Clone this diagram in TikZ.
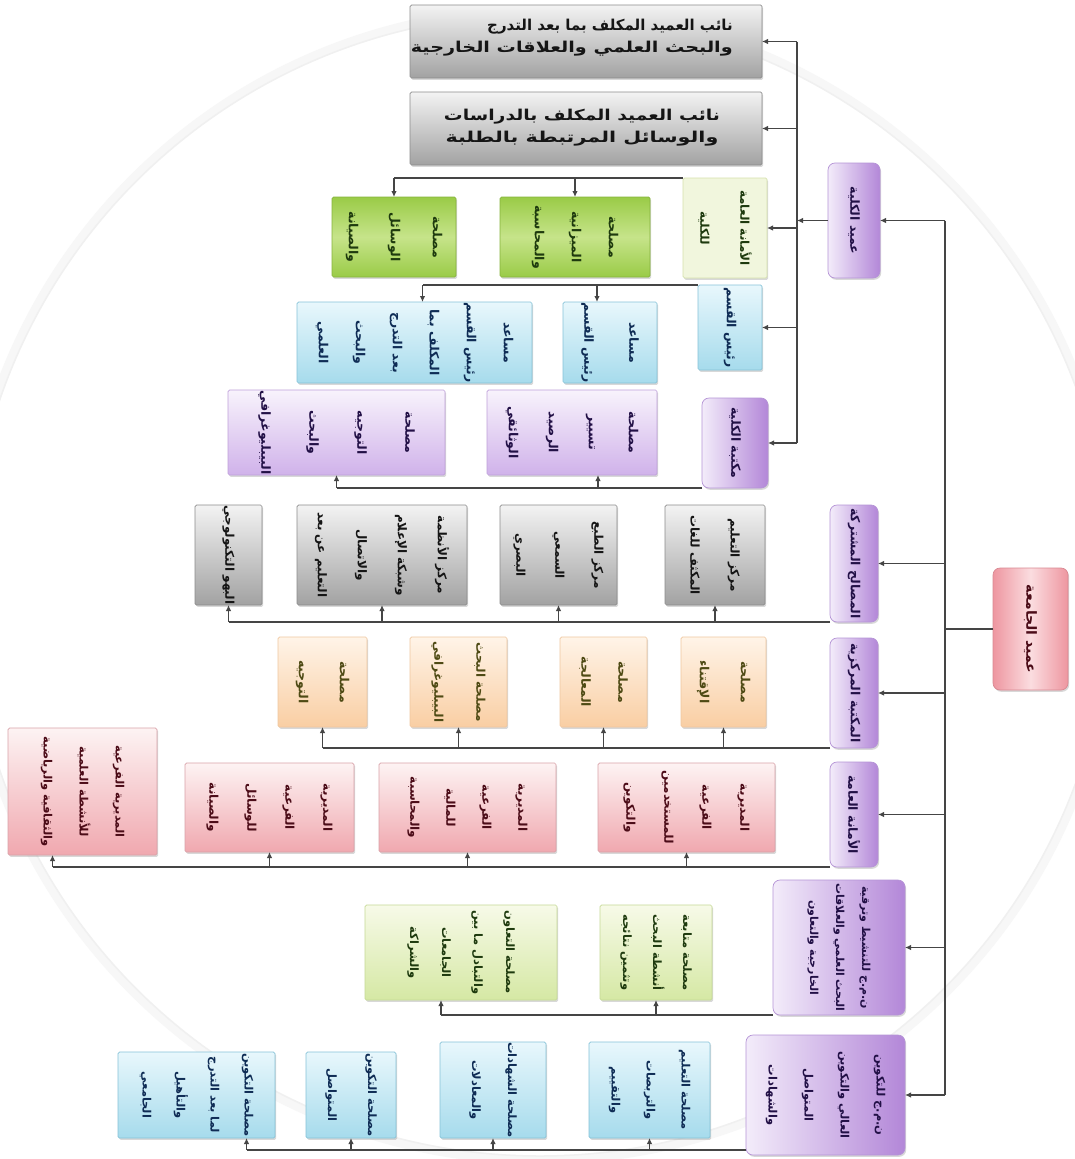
\documentclass[tikz,border=0pt]{standalone}
\usepackage{fontspec}
\usepackage{graphicx}
\newfontfamily\arabicfont[Script=Arabic]{DejaVu Sans}
\TeXXeTstate=1
\usetikzlibrary{arrows.meta,shadows}

% palette
\definecolor{lineC}{HTML}{454545}
\definecolor{grayT}{HTML}{F3F3F3}\definecolor{grayB}{HTML}{A2A2A2}\definecolor{grayD}{HTML}{8C8C8C}
\definecolor{grnE}{HTML}{9ACB47}\definecolor{grnM}{HTML}{C6E48A}\definecolor{grnD}{HTML}{86B33C}
\definecolor{paleG}{HTML}{F1F6DD}\definecolor{paleGD}{HTML}{D5E2AC}
\definecolor{bluT}{HTML}{E8F7FC}\definecolor{bluB}{HTML}{A6DBEC}\definecolor{bluD}{HTML}{86C3D8}
\definecolor{purT}{HTML}{F8F3FC}\definecolor{purB}{HTML}{D0B2EA}\definecolor{purD}{HTML}{BFA0DA}
\definecolor{hdrL}{HTML}{F3ECFA}\definecolor{hdrR}{HTML}{B387D8}\definecolor{hdrD}{HTML}{B594D6}
\definecolor{orT}{HTML}{FFF4E8}\definecolor{orB}{HTML}{F9CEA3}\definecolor{orD}{HTML}{EFC79F}
\definecolor{redT}{HTML}{FDF3F3}\definecolor{redB}{HTML}{F0A8AF}\definecolor{redD}{HTML}{D9A2A9}
\definecolor{ltgT}{HTML}{F7FAE8}\definecolor{ltgB}{HTML}{D5E8A4}\definecolor{ltgD}{HTML}{C6DA96}
\definecolor{udE}{HTML}{EE96A0}\definecolor{udM}{HTML}{FBDDE0}\definecolor{udD}{HTML}{D98892}
\definecolor{txG}{HTML}{1E3A0E}\definecolor{txB}{HTML}{0F2C55}\definecolor{txP}{HTML}{221046}
\definecolor{txO}{HTML}{4E4A14}\definecolor{txR}{HTML}{4C0C18}\definecolor{txK}{HTML}{151515}

% one right-to-left line
\newcommand\artx[1]{\beginR #1\endR}
% box from its two corners: name, style, x1, y1, x2, y2
\newcommand\bx[6]{%
  \pgfmathsetmacro\bxw{#5-#3}%
  \pgfmathsetmacro\bxh{#6-#4}%
  \node[#2, minimum width=\bxw pt, minimum height=\bxh pt] (#1) at ({(#3+#5)/2},{(#4+#6)/2}) {};}

\begin{document}
\begin{tikzpicture}[x=1pt,y=-1pt,
  box/.style={draw, line width=0.7pt, inner sep=0pt, outer sep=0pt, rounded corners=1.5pt,
    drop shadow={shadow xshift=1.2pt, shadow yshift=-1.8pt, opacity=0.3}},
  hdr/.style={box, rounded corners=7pt, draw=hdrD, left color=hdrL, right color=hdrR},
  grybox/.style={box, draw=grayD, top color=grayT, bottom color=grayB},
  grnbox/.style={box, draw=grnD, top color=grnE, bottom color=grnE, middle color=grnM},
  palebox/.style={box, draw=paleGD, fill=paleG},
  blubox/.style={box, draw=bluD, top color=bluT, bottom color=bluB},
  purbox/.style={box, draw=purD, top color=purT, bottom color=purB},
  orbox/.style={box, draw=orD, top color=orT, bottom color=orB},
  redbox/.style={box, draw=redD, top color=redT, bottom color=redB},
  ltgbox/.style={box, draw=ltgD, top color=ltgT, bottom color=ltgB},
  udbox/.style={box, rounded corners=7pt, draw=udD, left color=udE, right color=udE, middle color=udM},
  vt/.style 2 args={rotate=-90, align=center, inner sep=0pt,
    font={\arabicfont\bfseries\fontsize{#1}{#2}\selectfont}},
  ht/.style={inner sep=0pt, text=txK,
    font={\arabicfont\bfseries\fontsize{15}{22}\selectfont}},
  conn/.style={draw=lineC, line width=1.3pt},
  arr/.style={conn, -{Latex[length=6pt,width=5.5pt]}},
]
\useasboundingbox (0,0) rectangle (1074,1159);
\fill[white] (0,0) rectangle (1074,1159);
% faint halo behind the chart
\draw[black!3, line width=9pt] (540,585) circle (575pt);
\draw[black!6, line width=1.5pt] (540,585) circle (571pt);

% ---------- faculty part ----------
\bx{ga}{grybox}{410}{5}{762}{78}
\bx{gb}{grybox}{410}{92}{762}{165}
\node[ht, align=right, anchor=east] (gat) at (733,38)
  {\beginR نائب العميد المكلف بما بعد التدرج\endR\\
   \scalebox{1.28}[1]{\beginR والبحث العلمي والعلاقات الخارجية\endR}};
\node[ht, align=center] (gbt) at (582,128)
  {\scalebox{1.25}[1]{\beginR نائب العميد المكلف بالدراسات\endR}\\
   \scalebox{1.38}[1]{\beginR والوسائل المرتبطة بالطلبة\endR}};

\bx{dean}{hdr}{828}{163}{880}{278}
\node[vt={12.5}{17}, text=txP] (deant) at (dean) {\artx{عميد الكلية}};

\bx{amana}{palebox}{683}{178}{767}{278}
\node[vt={12}{40}, text=txG] (amanat) at (amana) {\artx{الأمانة العامة}\\\artx{للكلية}};
\bx{g1}{grnbox}{500}{197}{650}{277}
\node[vt={12.5}{37}, text=txG] (g1t) at (g1) {\artx{مصلحة}\\\artx{الميزانية}\\\artx{والمحاسبة}};
\bx{g2}{grnbox}{332}{197}{456}{277}
\node[vt={12.5}{42}, text=txG] (g2t) at (g2) {\artx{مصلحة}\\\artx{الوسائل}\\\artx{والصيانة}};

\bx{head}{blubox}{698}{285}{762}{370}
\node[vt={12.5}{17}, text=txB] (headt) at (head) {\artx{رئيس القسم}};
\bx{bl1}{blubox}{563}{302}{657}{383}
\node[vt={12.5}{45}, text=txB] (bl1t) at (bl1) {\artx{مساعد}\\\artx{رئيس القسم}};
\bx{bl2}{blubox}{297}{302}{532}{383}
\node[vt={12.5}{37}, text=txB] (bl2t) at (bl2)
  {\artx{مساعد}\\\artx{رئيس القسم}\\\artx{المكلف بما}\\\artx{بعد التدرج}\\\artx{والبحث}\\\artx{العلمي}};

\bx{lib}{hdr}{702}{398}{768}{488}
\node[vt={12.5}{17}, text=txP] (libt) at (lib) {\artx{مكتبة الكلية}};
\bx{pu1}{purbox}{487}{390}{657}{475}
\node[vt={12.5}{40}, text=txP] (pu1t) at (pu1) {\artx{مصلحة}\\\artx{تسيير}\\\artx{الرصيد}\\\artx{الوثائقي}};
\bx{pu2}{purbox}{228}{390}{445}{475}
\node[vt={12.5}{48}, text=txP] (pu2t) at (pu2) {\artx{مصلحة}\\\artx{التوجيه}\\\artx{والبحث}\\\artx{البيبليوغرافي}};

% ---------- university part ----------
\bx{ud}{udbox}{993}{568}{1068}{690}
\node[vt={14}{18}, text=txR] (udt) at (ud) {\artx{عميد الجامعة}};

\bx{sh}{hdr}{830}{505}{878}{622}
\node[vt={12.5}{17}, text=txP] (sht) at (sh) {\artx{المصالح المشتركة}};
\bx{gA}{grybox}{665}{505}{765}{605}
\node[vt={12}{40}, text=txK] (gAt) at (gA) {\artx{مركز التعليم}\\\artx{المكثف للغات}};
\bx{gB}{grybox}{500}{505}{617}{605}
\node[vt={12}{39}, text=txK] (gBt) at (gB) {\artx{مركز الطبع}\\\artx{السمعي}\\\artx{البصري}};
\bx{gC}{grybox}{297}{505}{467}{605}
\node[vt={12}{40}, text=txK] (gCt) at (gC) {\artx{مركز الأنظمة}\\\artx{وشبكة الإعلام}\\\artx{والاتصال}\\\artx{التعليم عن بعد}};
\bx{gD}{grybox}{195}{505}{262}{605}
\node[vt={12}{17}, text=txK] (gDt) at (gD) {\artx{البهو التكنولوجي}};

\bx{lc}{hdr}{830}{638}{878}{748}
\node[vt={12.5}{17}, text=txP] (lct) at (lc) {\artx{المكتبة المركزية}};
\bx{o1}{orbox}{681}{637}{766}{727}
\node[vt={12.5}{41}, text=txO] (o1t) at (o1) {\artx{مصلحة}\\\artx{الإقتناء}};
\bx{o2}{orbox}{560}{637}{647}{727}
\node[vt={12.5}{37}, text=txO] (o2t) at (o2) {\artx{مصلحة}\\\artx{المعالجة}};
\bx{o3}{orbox}{410}{637}{507}{727}
\node[vt={12}{42}, text=txO] (o3t) at (o3) {\artx{مصلحة البحث}\\\artx{البيبليوغرافي}};
\bx{o4}{orbox}{278}{637}{367}{727}
\node[vt={12.5}{41}, text=txO] (o4t) at (o4) {\artx{مصلحة}\\\artx{التوجيه}};

\bx{sg}{hdr}{830}{762}{878}{867}
\node[vt={12.5}{17}, text=txP] (sgt) at (sg) {\artx{الأمانة العامة}};
\bx{r1}{redbox}{598}{763}{775}{852}
\node[vt={12}{38}, text=txR] (r1t) at (r1) {\artx{المديرية}\\\artx{الفرعية}\\\artx{للمستخدمين}\\\artx{والتكوين}};
\bx{r2}{redbox}{379}{763}{556}{852}
\node[vt={12}{36}, text=txR] (r2t) at (r2) {\artx{المديرية}\\\artx{الفرعية}\\\artx{للمالية}\\\artx{والمحاسبة}};
\bx{r3}{redbox}{185}{763}{354}{852}
\node[vt={12}{38}, text=txR] (r3t) at (r3) {\artx{المديرية}\\\artx{الفرعية}\\\artx{للوسائل}\\\artx{والصيانة}};
\bx{r4}{redbox}{8}{728}{157}{855}
\node[vt={11.5}{36}, text=txR] (r4t) at (r4) {\artx{المديرية الفرعية}\\\artx{للأنشطة العلمية}\\\artx{والثقافية والرياضية}};

\bx{r7}{hdr}{773}{880}{905}{1015}
\node[vt={11}{26}, text=txP] (r7t) at (r7) {\artx{ن.م.ج للتنشيط وترقية}\\\artx{البحث العلمي والعلاقات}\\\artx{الخارجية والتعاون}};
\bx{gg1}{ltgbox}{600}{905}{712}{1000}
\node[vt={11.5}{30}, text=txG] (gg1t) at (gg1) {\artx{مصلحة متابعة}\\\artx{أنشطة البحث}\\\artx{وتثمين نتائجه}};
\bx{gg2}{ltgbox}{365}{905}{557}{1000}
\node[vt={11.5}{32}, text=txG] (gg2t) at (gg2) {\artx{مصلحة التعاون}\\\artx{والتبادل ما بين}\\\artx{الجامعات}\\\artx{والشراكة}};

\bx{r8}{hdr}{746}{1035}{905}{1155}
\node[vt={11.5}{36}, text=txP] (r8t) at (r8) {\artx{ن.م.ج للتكوين}\\\artx{العالي والتكوين}\\\artx{المتواصل}\\\artx{والشهادات}};
\bx{b1}{blubox}{589}{1042}{710}{1138}
\node[vt={11.5}{35}, text=txB] (b1t) at (b1) {\artx{مصلحة التعليم}\\\artx{والتربصات}\\\artx{والتقييم}};
\bx{b2}{blubox}{440}{1042}{546}{1138}
\node[vt={11.5}{36}, text=txB] (b2t) at (b2) {\artx{مصلحة الشهادات}\\\artx{والمعادلات}};
\bx{b3}{blubox}{306}{1052}{396}{1138}
\node[vt={11.5}{40}, text=txB] (b3t) at (b3) {\artx{مصلحة التكوين}\\\artx{المتواصل}};
\bx{b4}{blubox}{118}{1052}{275}{1138}
\node[vt={11.5}{34}, text=txB] (b4t) at (b4) {\artx{مصلحة التكوين}\\\artx{لما بعد التدرج}\\\artx{والتأهيل}\\\artx{الجامعي}};

% ---------- connectors ----------
\coordinate (vx) at (797,0);
\coordinate (sx) at (945,0);

% faculty bus
\draw[conn] (ga.east -| vx) -- (lib.east -| vx);
\draw[arr] (dean.west) -- (dean.west -| vx);
\foreach \b in {ga,gb,amana,head,lib} \draw[arr] (\b.east -| vx) -- (\b.east);

% secretariat of the faculty
\draw[conn] (amana.north west) -- (amana.north west -| g2.north);
\foreach \b in {g1,g2} \draw[arr] (amana.north west -| \b.north) -- (\b.north);

% head of department
\coordinate (bl1a) at ([xshift=-13pt]bl1.north);
\coordinate (bl2a) at ([xshift=8pt]bl2.north);
\draw[conn] (head.north west) -- (head.north west -| bl2a);
\foreach \b in {bl1a,bl2a} \draw[arr] (head.north west -| \b) -- (\b);

% faculty library
\coordinate (pu1a) at ([xshift=26pt]pu1.south);
\coordinate (pu2a) at (pu2.south);
\draw[conn] (lib.south west) -- (lib.south west -| pu2a);
\foreach \b in {pu1a,pu2a} \draw[arr] (lib.south west -| \b) -- (\b);

% university spine
\draw[conn] (dean.east -| sx) -- (r8.east -| sx);
\draw[conn] (ud.west) -- (ud.west -| sx);
\foreach \b in {dean,sh,lc,sg,r7,r8} \draw[arr] (\b.east -| sx) -- (\b.east);

% common services
\draw[conn] (sh.south west) -- (sh.south west -| gD.south);
\foreach \b in {gA,gB,gC,gD} \draw[arr] (sh.south west -| \b.south) -- (\b.south);

% central library
\draw[conn] (lc.south west) -- (lc.south west -| o4.south);
\foreach \b in {o1,o2,o3,o4} \draw[arr] (lc.south west -| \b.south) -- (\b.south);

% general secretariat
\coordinate (r4a) at ([xshift=-30pt]r4.south);
\draw[conn] (sg.south west) -- (sg.south west -| r4a);
\foreach \b in {r1.south,r2.south,r3.south,r4a} \draw[arr] (sg.south west -| \b) -- (\b);

% vice-rectorate for research and external relations
\coordinate (gg2a) at ([xshift=-20pt]gg2.south);
\draw[conn] (r7.south west) -- (r7.south west -| gg2a);
\foreach \b in {gg1.south,gg2a} \draw[arr] (r7.south west -| \b) -- (\b);

% vice-rectorate for higher education
\coordinate (r8b) at ([yshift=5pt]r8.south west);
\coordinate (b4a) at ([xshift=50pt]b4.south);
\draw[conn] (r8b) -- (r8b -| b4a);
\foreach \b in {b1.south,b2.south,b3.south,b4a} \draw[arr] (r8b -| \b) -- (\b);
\end{tikzpicture}
\end{document}
